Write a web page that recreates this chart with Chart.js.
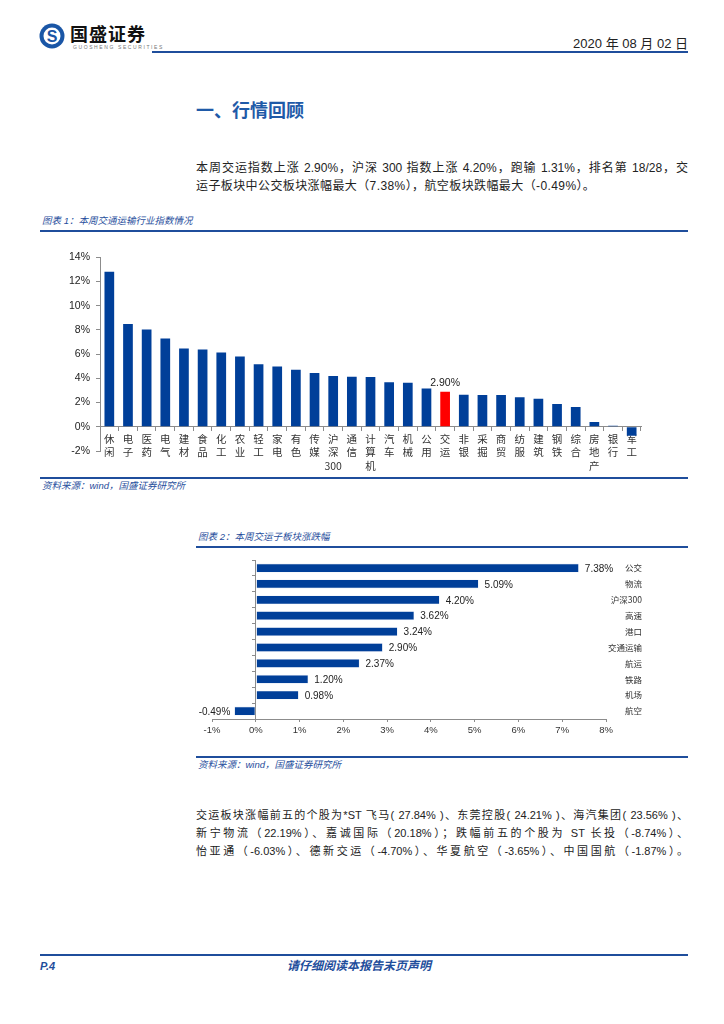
<!DOCTYPE html>
<html>
<head>
<meta charset="utf-8">
<script src="https://cdn.jsdelivr.net/npm/chart.js@4.4.1/dist/chart.umd.min.js"></script>
<style>
  body { margin: 0; background: #fff; width: 724px; height: 1024px; position: relative; overflow: hidden;
         font-family: "Liberation Sans", "Noto Sans CJK SC", sans-serif; color: #222; }
  .abs { position: absolute; white-space: nowrap; }
  .rule { position: absolute; background: #1f4e9c; }
  .cap { position: absolute; font-size: 9.5px; font-style: italic; color: #1f4e9c; line-height: 14px; white-space: nowrap; }
  .para { position: absolute; left: 196px; width: 492px; white-space: nowrap; }
  .just { text-align: justify; text-align-last: justify; }
  canvas { position: absolute; }
</style>
</head>
<body>

<!-- header -->
<svg class="abs" style="left:39px;top:23px" width="26" height="26" viewBox="0 0 26 26">
  <circle cx="13" cy="13" r="12.5" fill="#1a56a6"/>
  <circle cx="13" cy="13" r="8.5" fill="#fff"/>
  <text x="13" y="18.5" text-anchor="middle" font-family="Liberation Sans" font-weight="bold" font-size="16" fill="#1a56a6">S</text>
</svg>
<div class="abs" style="left:70px;top:24px;font-size:18px;font-weight:bold;letter-spacing:1px;color:#111;line-height:22px">国盛证券</div>
<div class="abs" style="left:73px;top:44px;font-size:5px;letter-spacing:1.6px;color:#777;line-height:6px">GUOSHENG SECURITIES</div>
<div class="abs" style="right:36px;top:36px;font-size:13px;line-height:16px;color:#222">2020 年 08 月 02 日</div>
<div class="rule" style="left:152px;top:51px;width:536px;height:2px"></div>

<div class="abs" style="left:196px;top:98px;font-size:18px;font-weight:bold;color:#1f5aa8;line-height:26px">一、行情回顾</div>

<div class="para just" style="top:159px;font-size:12px;line-height:18px">本周交运指数上涨 2.90%，沪深 300 指数上涨 4.20%，跑输 1.31%，排名第 18/28，交</div>
<div class="para" style="top:177px;font-size:12px;line-height:18px;letter-spacing:0.4px">运子板块中公交板块涨幅最大（7.38%），航空板块跌幅最大（-0.49%）。</div>

<!-- chart 1 -->
<div class="cap" style="left:42px;top:214px">图表 1：本周交通运输行业指数情况</div>
<div class="rule" style="left:40px;top:230px;width:648px;height:2px"></div>
<canvas id="industry-chart" width="650" height="232" style="left:40px;top:245px"></canvas>
<div class="rule" style="left:40px;top:477px;width:648px;height:1.5px"></div>
<div class="cap" style="left:42px;top:479px">资料来源：wind，国盛证券研究所</div>

<!-- chart 2 -->
<div class="cap" style="left:198px;top:530px">图表 2：本周交运子板块涨跌幅</div>
<div class="rule" style="left:196px;top:546px;width:492px;height:1.5px"></div>
<canvas id="sector-chart" width="449" height="195" style="left:196px;top:553px"></canvas>
<div class="rule" style="left:196px;top:756px;width:492px;height:1.5px"></div>
<div class="cap" style="left:198px;top:758px">资料来源：wind，国盛证券研究所</div>

<div class="para just" style="top:806px;font-size:11px;line-height:18px">交运板块涨幅前五的个股为*ST 飞马( 27.84% )、东莞控股( 24.21% )、海汽集团( 23.56% )、</div>
<div class="para just" style="top:824px;font-size:11px;line-height:18px">新宁物流（22.19%）、嘉诚国际（20.18%）；跌幅前五的个股为 ST 长投（-8.74%）、</div>
<div class="para just" style="top:842px;font-size:11px;line-height:18px">怡亚通（-6.03%）、德新交运（-4.70%）、华夏航空（-3.65%）、中国国航（-1.87%）。</div>

<!-- footer -->
<div class="rule" style="left:40px;top:954px;width:648px;height:2px"></div>
<div class="abs" style="left:40px;top:959px;font-size:11px;font-weight:bold;font-style:italic;color:#1f4e9c;line-height:14px">P.4</div>
<div class="abs" style="left:287px;top:958px;font-size:12px;font-weight:bold;font-style:italic;color:#1f4e9c;line-height:16px">请仔细阅读本报告末页声明</div>

<script>
// chart 1: weekly change of each industry index (%)
const industries = ['休闲','电子','医药','电气','建材','食品','化工','农业','轻工','家电','有色','传媒','沪深300','通信',
                    '计算机','汽车','机械','公用','交运','非银','采掘','商贸','纺服','建筑','钢铁','综合','房地产','银行','军工'];
const industryChange = [12.8, 8.5, 8.03, 7.3, 6.47, 6.39, 6.14, 5.8, 5.17, 4.97, 4.72, 4.44, 4.20, 4.14,
                        4.12, 3.67, 3.64, 3.17, 2.90, 2.64, 2.62, 2.62, 2.44, 2.31, 1.89, 1.64, 0.39, 0.08, -0.75];
const highlightIndustry = '交运';
const yTicks1 = { min: -2, max: 14, step: 2 };

// chart 2: transport sub-sectors (%)
const sectors = ['公交','物流','沪深300','高速','港口','交通运输','航运','铁路','机场','航空'];
const sectorChange = [7.38, 5.09, 4.20, 3.62, 3.24, 2.90, 2.37, 1.20, 0.98, -0.49];
const xTicks2 = { min: -1, max: 8, step: 1 };

const BLUE = '#003f99';
const RED = '#ff0000';
const AXIS = '#8c8c8c';

// vertical label: one char per line, keep digits together
const stack = s => s.match(/\d+|./g);

const hiIdx = industries.indexOf(highlightIndustry);

const barLabels = {
  id: 'barLabels',
  afterDatasetsDraw(chart, args, opts) {
    const { ctx } = chart;
    const meta = chart.getDatasetMeta(0);
    const data = chart.data.datasets[0].data;
    ctx.save();
    ctx.font = opts.font;
    ctx.fillStyle = '#222';
    meta.data.forEach((bar, i) => {
      if (opts.only != null && i !== opts.only) return;
      const v = data[i];
      const txt = v.toFixed(2) + '%';
      if (opts.horizontal) {
        ctx.textBaseline = 'middle';
        ctx.textAlign = v >= 0 ? 'left' : 'right';
        ctx.fillText(txt, bar.x + (v >= 0 ? 6 : -4), bar.y + 1);
      } else {
        ctx.textBaseline = 'bottom';
        ctx.textAlign = 'center';
        ctx.fillText(txt, bar.x, bar.y - 3);
      }
    });
    ctx.restore();
  }
};

new Chart(document.getElementById('industry-chart'), {
  type: 'bar',
  data: {
    labels: industries.map(stack),
    datasets: [{
      data: industryChange,
      backgroundColor: industries.map((_, i) => i === hiIdx ? RED : BLUE),
      barPercentage: 0.52, categoryPercentage: 1
    }]
  },
  plugins: [barLabels],
  options: {
    responsive: false, animation: false,
    layout: { padding: { top: 12, bottom: 26, left: 0, right: 49 } },
    plugins: {
      legend: { display: false }, tooltip: { enabled: false },
      barLabels: { only: hiIdx, font: '10.5px "Liberation Sans"' }
    },
    scales: {
      x: {
        position: { y: 0 },
        grid: { drawOnChartArea: false, offset: true, tickLength: 4, color: AXIS },
        border: { color: AXIS },
        ticks: { autoSkip: false, maxRotation: 0, padding: 2, color: '#333',
                 font: { family: 'Noto Sans CJK SC', size: 10.5, lineHeight: 1.25 } }
      },
      y: {
        min: yTicks1.min, max: yTicks1.max,
        afterFit: s => { s.width = 60; },
        grid: { drawOnChartArea: false, tickLength: 4, color: AXIS },
        border: { color: AXIS },
        ticks: { stepSize: yTicks1.step, padding: 6, color: '#222',
                 font: { family: 'Liberation Sans', size: 10.5 }, callback: v => v + '%' }
      }
    }
  }
});

new Chart(document.getElementById('sector-chart'), {
  type: 'bar',
  data: {
    labels: sectors,
    datasets: [{
      data: sectorChange, backgroundColor: BLUE,
      borderColor: '#dfe6f3', borderWidth: 0.6, borderSkipped: false,
      barPercentage: 0.56, categoryPercentage: 1
    }]
  },
  plugins: [barLabels],
  options: {
    indexAxis: 'y',
    responsive: false, animation: false,
    layout: { padding: { top: 6, bottom: 4, left: 16, right: 3 } },
    plugins: {
      legend: { display: false }, tooltip: { enabled: false },
      barLabels: { horizontal: true, font: '10px "Liberation Sans"' }
    },
    scales: {
      x: {
        min: xTicks2.min, max: xTicks2.max,
        afterFit: s => { s.height = 25; },
        grid: { drawOnChartArea: false, tickLength: 3, color: AXIS },
        border: { color: AXIS },
        ticks: { stepSize: xTicks2.step, padding: 3, color: '#333',
                 font: { family: 'Liberation Sans', size: 9.5 }, callback: v => v + '%' }
      },
      y: {
        position: { x: 0 },
        grid: { drawOnChartArea: false, offset: true, tickLength: 3, color: AXIS },
        border: { color: AXIS },
        ticks: { display: false }
      },
      yName: {
        type: 'category', axis: 'y', labels: sectors, position: 'right', offset: true, display: true,
        afterFit: s => { s.width = 36; },
        grid: { display: false }, border: { display: false },
        ticks: { crossAlign: 'far', padding: 2, color: '#333',
                 font: { family: 'Noto Sans CJK SC', size: 8.5 } }
      }
    }
  }
});
</script>
</body>
</html>
